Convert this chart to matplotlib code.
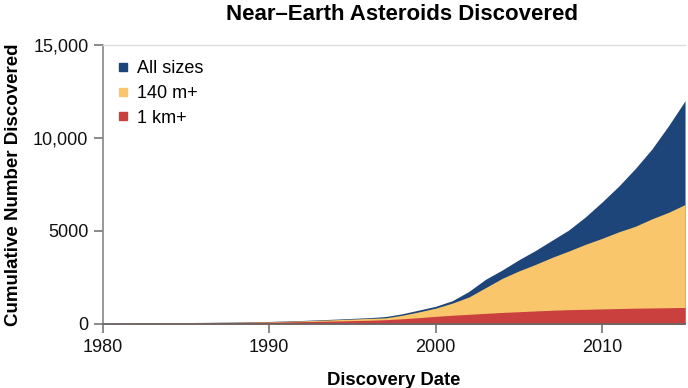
import matplotlib
matplotlib.use("Agg")
import matplotlib.pyplot as plt
from matplotlib.lines import Line2D
from matplotlib.ticker import FuncFormatter

# cumulative counts
years = [1980, 1982, 1984, 1986, 1988, 1990, 1992, 1994, 1996, 1997, 1998, 1999,
         2000, 2001, 2002, 2003, 2004, 2005, 2006, 2007, 2008, 2009, 2010, 2011,
         2012, 2013, 2014, 2015]
all_sizes = [40, 55, 70, 85, 105, 135, 190, 260, 340, 400, 550, 750,
             950, 1250, 1750, 2400, 2900, 3450, 3950, 4500, 5050, 5750, 6550, 7400,
             8350, 9400, 10650, 12000]
m140 = [30, 45, 60, 75, 95, 120, 170, 230, 300, 330, 470, 650,
        850, 1120, 1450, 1950, 2450, 2850, 3200, 3580, 3920, 4280, 4600, 4950,
        5250, 5650, 6000, 6420]
km1 = [25, 40, 55, 65, 80, 100, 130, 160, 200, 230, 280, 340,
       410, 470, 520, 570, 620, 660, 700, 740, 770, 790, 810, 830,
       850, 860, 875, 890]

labels = ["All sizes", "140 m+", "1 km+"]
colors = ["#1d4579", "#f9c66b", "#c9403f"]

FONT = ["Liberation Sans", "DejaVu Sans"]

fig = plt.figure(figsize=(6.88, 3.88), dpi=100)
ax = fig.add_axes([0.1497, 0.165, 0.846, 0.719])

for series, c in zip([all_sizes, m140, km1], colors):
    ax.fill_between(years, 0, series, color=c, lw=0)

ax.set_xlim(1980, 2015)
ax.set_ylim(0, 15000)
ax.set_xticks([1980, 1990, 2000, 2010])
ax.set_yticks([0, 5000, 10000, 15000])
ax.yaxis.set_major_formatter(FuncFormatter(lambda v, p: f"{v:,.0f}" if v >= 10000 else f"{v:.0f}"))

for lab in ax.get_xticklabels() + ax.get_yticklabels():
    lab.set_family(FONT)
    lab.set_fontsize(13)
    lab.set_color("#111111")
ax.tick_params(axis="both", direction="out", length=6.5, width=1.2, color="#777777", pad=4)

ax.spines["right"].set_visible(False)
ax.spines["top"].set_color("#dddddd")
ax.spines["top"].set_linewidth(1.0)
ax.spines["left"].set_color("#888888")
ax.spines["left"].set_linewidth(1.2)
ax.spines["bottom"].set_color("#666666")
ax.spines["bottom"].set_linewidth(1.2)

ax.set_xlabel("Discovery Date", family=FONT, fontsize=13.3, fontweight="bold", labelpad=12)
ax.set_ylabel("Cumulative Number Discovered", family=FONT, fontsize=13.5, fontweight="bold")
ax.yaxis.set_label_coords(-0.139, 0.5)
fig.text(0.584, 0.962, "Near\u2013Earth Asteroids Discovered", family=FONT, fontsize=16,
         fontweight="bold", ha="center", va="center")

handles = [Line2D([], [], ls="none", marker="s", ms=5.5, mfc=c, mec=c) for c in colors]
leg = ax.legend(handles, labels, loc="upper left", bbox_to_anchor=(0.005, 0.99), frameon=False,
                prop={"family": FONT, "size": 13}, handlelength=0.5, handletextpad=0.5,
                labelspacing=0.42, borderaxespad=0.3)

fig.savefig("out.png", dpi=100)
